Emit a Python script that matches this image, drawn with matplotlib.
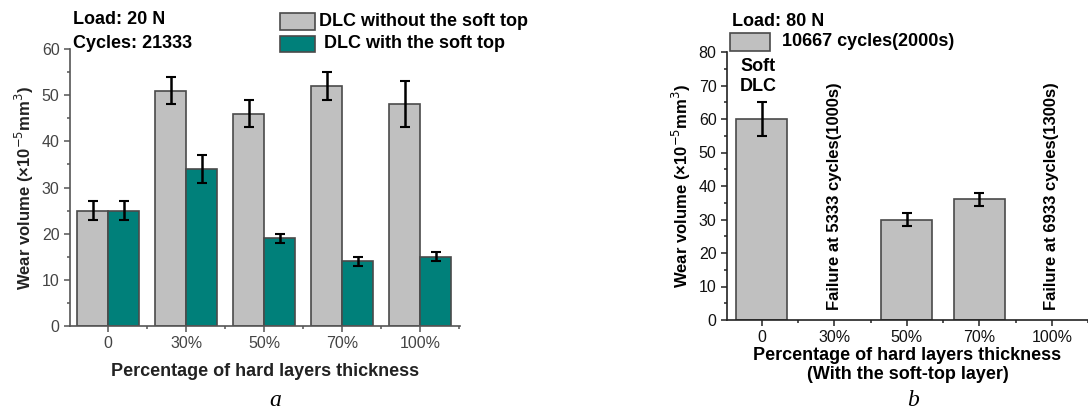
import numpy as np
import matplotlib
matplotlib.use('Agg')
from matplotlib import pyplot as plt
from matplotlib.ticker import MultipleLocator
from matplotlib.patches import Rectangle

plt.rcParams['font.family'] = ['Liberation Sans', 'DejaVu Sans']

# panel a data
cats = ['0', '30%', '50%', '70%', '100%']
without_top = [25, 51, 46, 52, 48]
without_err = [2, 3, 3, 3, 5]
with_top = [25, 34, 19, 14, 15]
with_err = [2, 3, 1, 1, 1]

# panel b data
b_vals = [60, 0, 30, 36, 0]
b_err = [5, 0, 2, 2, 0]
b_fail = {1: 'Failure at 5333 cycles(1000s)', 4: 'Failure at 6933 cycles(1300s)'}

GRAY = '#c0c0c0'
TEAL = '#00807a'
EDGE = '#4a4a4a'
W, H = 1088, 412

fig = plt.figure(figsize=(W / 100, H / 100), dpi=100)


def ax_at(x0, y0, x1, y1):
    return fig.add_axes([x0 / W, 1 - y1 / H, (x1 - x0) / W, (y1 - y0) / H])


def style(ax, color):
    for s in ['top', 'right']:
        ax.spines[s].set_visible(False)
    for s in ['left', 'bottom']:
        ax.spines[s].set_color(color)
        ax.spines[s].set_linewidth(1.2)
    ax.tick_params(which='both', direction='out', colors=color, width=1.1)
    ax.tick_params(which='major', length=4)
    ax.tick_params(which='minor', length=2.5)
    ax.yaxis.set_minor_locator(MultipleLocator(5))


# ---------- panel a ----------
ax = ax_at(70, 49, 460, 326)
x = np.arange(len(cats))
ax.bar(x - 0.2, without_top, 0.4, color=GRAY, edgecolor=EDGE, linewidth=1.2, zorder=2)
ax.bar(x + 0.2, with_top, 0.4, color=TEAL, edgecolor=EDGE, linewidth=1.2, zorder=2)
ax.errorbar(x - 0.2, without_top, yerr=without_err, fmt='none', ecolor='black',
            elinewidth=1.8, capsize=3.5, capthick=1.5, zorder=3)
ax.errorbar(x + 0.2, with_top, yerr=with_err, fmt='none', ecolor='black',
            elinewidth=1.8, capsize=3.5, capthick=1.5, zorder=3)
ax.set_xlim(-0.49, 4.51)
ax.set_ylim(0, 60)
style(ax, '#555555')
ax.yaxis.set_major_locator(MultipleLocator(10))
ax.set_xticks(x)
ax.set_xticklabels(cats)
ax.set_xticks(x + 0.5, minor=True)
ax.tick_params(labelsize=11.5, labelcolor='#444444')
ax.set_xlabel('Percentage of hard layers thickness', fontsize=13, fontweight='bold',
              color='#222222', labelpad=8)
ax.set_ylabel('Wear volume (×10$^{-5}$mm$^{3}$)', fontsize=12, fontweight='bold',
              color='#222222', labelpad=4)
fig.text(73 / W, 1 - 20 / H, 'Load: 20 N', fontsize=13, fontweight='bold', va='center')
fig.text(73 / W, 1 - 44 / H, 'Cycles: 21333', fontsize=13, fontweight='bold', va='center')
fig.patches.append(Rectangle((280 / W, 1 - 30 / H), 35 / W, 17 / H, transform=fig.transFigure,
                             facecolor=GRAY, edgecolor=EDGE, linewidth=1.2))
fig.patches.append(Rectangle((280 / W, 1 - 52 / H), 35 / W, 16 / H, transform=fig.transFigure,
                             facecolor=TEAL, edgecolor=EDGE, linewidth=1.2))
fig.text(319 / W, 1 - 21 / H, 'DLC without the soft top', fontsize=13, fontweight='bold', va='center')
fig.text(324 / W, 1 - 43 / H, 'DLC with the soft top', fontsize=13, fontweight='bold', va='center')
fig.text(275 / W, 1 - 400 / H, 'a', fontsize=17, fontstyle='italic',
         family='Liberation Serif', ha='center', va='center')

# ---------- panel b ----------
bx = ax_at(727, 52, 1088, 320)
xb = np.arange(len(cats))
bars_x = [i for i, v in enumerate(b_vals) if v > 0]
bx.bar(bars_x, [b_vals[i] for i in bars_x], 0.7, color=GRAY, edgecolor=EDGE,
       linewidth=1.2, zorder=2)
bx.errorbar(bars_x, [b_vals[i] for i in bars_x], yerr=[b_err[i] for i in bars_x],
            fmt='none', ecolor='black', elinewidth=1.8, capsize=3.5, capthick=1.5, zorder=3)
for i, t in b_fail.items():
    bx.text(i, 3, t, rotation=90, ha='center', va='bottom', fontsize=12, fontweight='bold')
bx.text(-0.05, 72.7, 'Soft\nDLC', ha='center', va='center', fontsize=13, fontweight='bold',
        linespacing=1.25)
bx.set_xlim(-0.48, 4.35)
bx.set_ylim(0, 80)
style(bx, '#222222')
bx.yaxis.set_major_locator(MultipleLocator(10))
bx.set_xticks(xb)
bx.set_xticklabels(cats)
bx.set_xticks(xb + 0.5, minor=True)
bx.tick_params(labelsize=11.5, labelcolor='#111111')
bx.set_xlabel('Percentage of hard layers thickness\n(With the soft-top layer)', fontsize=13,
              fontweight='bold', labelpad=1, linespacing=1.15)
bx.set_ylabel('Wear volume (×10$^{-5}$mm$^{3}$)', fontsize=12, fontweight='bold', labelpad=4)
fig.text(732 / W, 1 - 22 / H, 'Load: 80 N', fontsize=13, fontweight='bold', va='center')
fig.patches.append(Rectangle((730 / W, 1 - 51 / H), 40 / W, 18 / H, transform=fig.transFigure,
                             facecolor=GRAY, edgecolor=EDGE, linewidth=1.2))
fig.text(782 / W, 1 - 42 / H, '10667 cycles(2000s)', fontsize=13, fontweight='bold', va='center')
fig.text(913 / W, 1 - 400 / H, 'b', fontsize=17, fontstyle='italic',
         family='Liberation Serif', ha='center', va='center')

fig.savefig('out.png', dpi=100)
